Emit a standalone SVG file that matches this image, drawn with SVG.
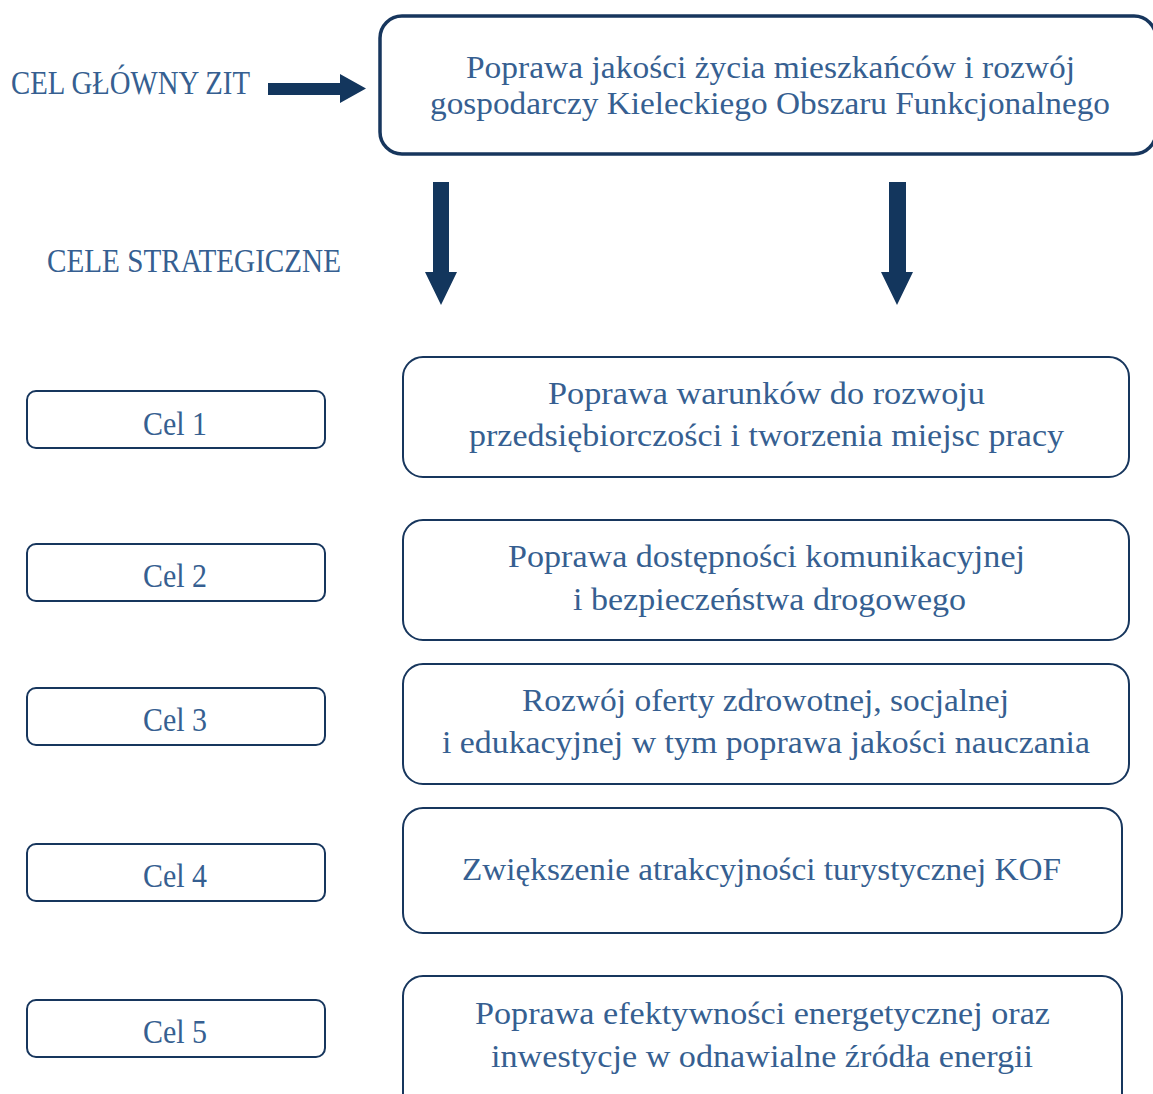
<svg xmlns="http://www.w3.org/2000/svg" width="1153" height="1094" viewBox="0 0 1153 1094">
<style>
.t{font-family:"Liberation Serif","Times New Roman",serif;fill:#365f91;text-anchor:middle}
.m{font-size:32px}
.l{font-size:33px}
.box{fill:#fff;stroke:#17365d;stroke-width:2}
.top{fill:#fff;stroke:#17365d;stroke-width:3.5}
.arr{fill:#13365d}
</style>
<rect width="1153" height="1094" fill="#fff"/>
<g id="labels">
<text class="t l" x="130.5" y="94" textLength="239" lengthAdjust="spacingAndGlyphs">CEL GŁÓWNY ZIT</text>
<text class="t l" x="194" y="272" textLength="294" lengthAdjust="spacingAndGlyphs">CELE STRATEGICZNE</text>
</g>
<g id="connectors">
<path class="arr" d="M268,83 H340 V74 L366,88.5 L340,103 V95 H268 Z"/>
<path class="arr" d="M433,182 H449 V272 H457 L441,305 L425,272 H433 Z"/>
<path class="arr" d="M889,182 H906 V272 H913 L897,305 L881,272 H889 Z"/>
</g>
<g id="main">
<rect class="top" x="380" y="16" width="776" height="138" rx="22"/>
<text class="t m" x="770.5" y="78" textLength="609" lengthAdjust="spacingAndGlyphs">Poprawa jakości życia mieszkańców i rozwój</text>
<text class="t m" x="770" y="114" textLength="680" lengthAdjust="spacingAndGlyphs">gospodarczy Kieleckiego Obszaru Funkcjonalnego</text>
</g>
<g id="cel1">
<rect class="box" x="27" y="391" width="298" height="57" rx="9"/>
<text class="t l" x="175" y="435" textLength="64" lengthAdjust="spacingAndGlyphs">Cel 1</text>
</g>
<g id="cel2">
<rect class="box" x="27" y="544" width="298" height="57" rx="9"/>
<text class="t l" x="175" y="587" textLength="64" lengthAdjust="spacingAndGlyphs">Cel 2</text>
</g>
<g id="cel3">
<rect class="box" x="27" y="688" width="298" height="57" rx="9"/>
<text class="t l" x="175" y="731" textLength="64" lengthAdjust="spacingAndGlyphs">Cel 3</text>
</g>
<g id="cel4">
<rect class="box" x="27" y="844" width="298" height="57" rx="9"/>
<text class="t l" x="175" y="887" textLength="64" lengthAdjust="spacingAndGlyphs">Cel 4</text>
</g>
<g id="cel5">
<rect class="box" x="27" y="1000" width="298" height="57" rx="9"/>
<text class="t l" x="175" y="1043" textLength="64" lengthAdjust="spacingAndGlyphs">Cel 5</text>
</g>
<g id="goal1">
<rect class="box" x="403" y="357" width="726" height="120" rx="20"/>
<text class="t m" x="766.5" y="404" textLength="437" lengthAdjust="spacingAndGlyphs">Poprawa warunków do rozwoju</text>
<text class="t m" x="766.5" y="446" textLength="595" lengthAdjust="spacingAndGlyphs">przedsiębiorczości i tworzenia miejsc pracy</text>
</g>
<g id="goal2">
<rect class="box" x="403" y="520" width="726" height="120" rx="20"/>
<text class="t m" x="766.5" y="567" textLength="517" lengthAdjust="spacingAndGlyphs">Poprawa dostępności komunikacyjnej</text>
<text class="t m" x="769.5" y="610" textLength="393" lengthAdjust="spacingAndGlyphs">i bezpieczeństwa drogowego</text>
</g>
<g id="goal3">
<rect class="box" x="403" y="664" width="726" height="120" rx="20"/>
<text class="t m" x="765.5" y="711" textLength="487" lengthAdjust="spacingAndGlyphs">Rozwój oferty zdrowotnej, socjalnej</text>
<text class="t m" x="766" y="753" textLength="648" lengthAdjust="spacingAndGlyphs">i edukacyjnej w tym poprawa jakości nauczania</text>
</g>
<g id="goal4">
<rect class="box" x="403" y="808" width="719" height="125" rx="20"/>
<text class="t m" x="761.5" y="880" textLength="599" lengthAdjust="spacingAndGlyphs">Zwiększenie atrakcyjności turystycznej KOF</text>
</g>
<g id="goal5">
<rect class="box" x="403" y="976" width="719" height="140" rx="20"/>
<text class="t m" x="762.5" y="1024" textLength="575" lengthAdjust="spacingAndGlyphs">Poprawa efektywności energetycznej oraz</text>
<text class="t m" x="762" y="1067" textLength="542" lengthAdjust="spacingAndGlyphs">inwestycje w odnawialne źródła energii</text>
</g>
</svg>
